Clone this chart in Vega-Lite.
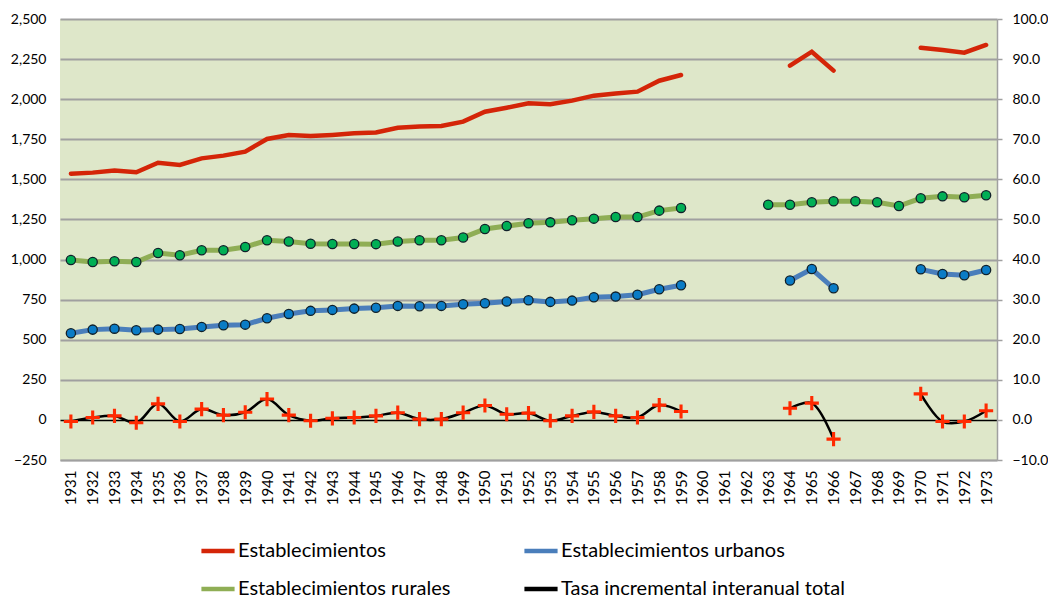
{
  "$schema": "https://vega.github.io/schema/vega-lite/v6.json",
  "autosize": {"type": "none"},
  "padding": {"left": 60, "top": 19, "right": 51, "bottom": 139},
  "width": 937,
  "height": 441,
  "data": {"values": [
    {"year": 1931, "est": 1535, "urb": 540, "rur": 997, "tasa": -0.4},
    {"year": 1932, "est": 1542, "urb": 563, "rur": 985, "tasa": 0.6},
    {"year": 1933, "est": 1555, "urb": 569, "rur": 989, "tasa": 1.0},
    {"year": 1934, "est": 1544, "urb": 559, "rur": 985, "tasa": -0.7},
    {"year": 1935, "est": 1604, "urb": 563, "rur": 1041, "tasa": 4.0},
    {"year": 1936, "est": 1590, "urb": 567, "rur": 1027, "tasa": -0.4},
    {"year": 1937, "est": 1631, "urb": 580, "rur": 1058, "tasa": 2.7},
    {"year": 1938, "est": 1648, "urb": 590, "rur": 1058, "tasa": 1.2},
    {"year": 1939, "est": 1673, "urb": 594, "rur": 1078, "tasa": 1.9},
    {"year": 1940, "est": 1752, "urb": 634, "rur": 1120, "tasa": 5.2},
    {"year": 1941, "est": 1777, "urb": 661, "rur": 1112, "tasa": 1.2},
    {"year": 1942, "est": 1770, "urb": 680, "rur": 1099, "tasa": -0.2},
    {"year": 1943, "est": 1777, "urb": 686, "rur": 1097, "tasa": 0.4},
    {"year": 1944, "est": 1787, "urb": 694, "rur": 1097, "tasa": 0.6},
    {"year": 1945, "est": 1792, "urb": 699, "rur": 1096, "tasa": 1.0},
    {"year": 1946, "est": 1822, "urb": 711, "rur": 1112, "tasa": 1.8},
    {"year": 1947, "est": 1829, "urb": 709, "rur": 1120, "tasa": 0.2},
    {"year": 1948, "est": 1833, "urb": 711, "rur": 1120, "tasa": 0.2},
    {"year": 1949, "est": 1860, "urb": 721, "rur": 1137, "tasa": 1.8},
    {"year": 1950, "est": 1922, "urb": 727, "rur": 1191, "tasa": 3.6},
    {"year": 1951, "est": 1947, "urb": 738, "rur": 1209, "tasa": 1.4},
    {"year": 1952, "est": 1974, "urb": 746, "rur": 1226, "tasa": 1.7},
    {"year": 1953, "est": 1968, "urb": 736, "rur": 1232, "tasa": -0.2},
    {"year": 1954, "est": 1991, "urb": 744, "rur": 1245, "tasa": 1.0},
    {"year": 1955, "est": 2022, "urb": 765, "rur": 1255, "tasa": 2.0},
    {"year": 1956, "est": 2036, "urb": 769, "rur": 1265, "tasa": 1.0},
    {"year": 1957, "est": 2047, "urb": 781, "rur": 1265, "tasa": 0.6},
    {"year": 1958, "est": 2115, "urb": 815, "rur": 1305, "tasa": 3.7},
    {"year": 1959, "est": 2151, "urb": 840, "rur": 1322, "tasa": 2.1},
    {"year": 1960, "est": null, "urb": null, "rur": null, "tasa": null},
    {"year": 1961, "est": null, "urb": null, "rur": null, "tasa": null},
    {"year": 1962, "est": null, "urb": null, "rur": null, "tasa": null},
    {"year": 1963, "est": null, "urb": null, "rur": 1342, "tasa": null},
    {"year": 1964, "est": 2209, "urb": 869, "rur": 1342, "tasa": 2.9},
    {"year": 1965, "est": 2296, "urb": 941, "rur": 1357, "tasa": 4.2},
    {"year": 1966, "est": 2178, "urb": 821, "rur": 1363, "tasa": -4.8},
    {"year": 1967, "est": null, "urb": null, "rur": 1363, "tasa": null},
    {"year": 1968, "est": null, "urb": null, "rur": 1357, "tasa": null},
    {"year": 1969, "est": null, "urb": null, "rur": 1334, "tasa": null},
    {"year": 1970, "est": 2321, "urb": 939, "rur": 1382, "tasa": 6.5},
    {"year": 1971, "est": 2306, "urb": 910, "rur": 1394, "tasa": -0.4},
    {"year": 1972, "est": 2290, "urb": 902, "rur": 1388, "tasa": -0.4},
    {"year": 1973, "est": 2338, "urb": 935, "rur": 1401, "tasa": 2.3}
  ]},
  "encoding": {
    "x": {
      "field": "year", "type": "ordinal",
      "scale": {"type": "point", "padding": 0.5, "domain": [1931,1932,1933,1934,1935,1936,1937,1938,1939,1940,1941,1942,1943,1944,1945,1946,1947,1948,1949,1950,1951,1952,1953,1954,1955,1956,1957,1958,1959,1960,1961,1962,1963,1964,1965,1966,1967,1968,1969,1970,1971,1972,1973]},
      "axis": {"title": null, "labelAngle": -90, "labelFontSize": 15, "labelPadding": 10, "ticks": false, "domain": true, "domainColor": "#A0A0A0", "domainWidth": 1.5, "grid": false, "labelColor": "#000000", "labelFont": "Lato"}
    }
  },
  "layer": [
    {
      "transform": [{"fold": ["est", "urb", "rur"], "as": ["serie", "valor"]}],
      "encoding": {
        "y": {"field": "valor", "type": "quantitative", "scale": {"domain": [-250, 2500], "nice": false, "zero": false},
          "axis": {"title": null, "orient": "left", "values": [-250,0,250,500,750,1000,1250,1500,1750,2000,2250,2500], "format": ",.0f", "grid": true, "gridColor": {"condition": {"test": "datum.value === 0", "value": "#000000"}, "value": "#A0A0A0"}, "gridWidth": {"condition": {"test": "datum.value === 0", "value": 1.5}, "value": 1.8}, "domain": false, "ticks": false, "labelPadding": 14, "labelFontSize": 14, "labelColor": "#000000", "labelFont": "Lato"}}
      },
      "layer": [
        {
          "transform": [{"filter": "datum.serie === 'est'"}],
          "mark": {"type": "line", "strokeWidth": 4.5, "strokeCap": "round"},
          "encoding": {
            "color": {"datum": "Establecimientos",
              "scale": {"domain": ["Establecimientos", "Establecimientos urbanos", "Establecimientos rurales", "Tasa incremental interanual total"], "range": ["#D42508", "#4A7EBB", "#8FAE55", "#000000"]},
              "legend": {"title": null, "orient": "none", "legendX": 139, "legendY": 513, "columns": 2, "direction": "horizontal", "symbolType": "stroke", "symbolSize": 1100, "symbolStrokeWidth": 4.5, "labelFontSize": 20, "labelFont": "Lato", "labelColor": "#000000", "labelOffset": 1, "columnPadding": 64, "rowPadding": 9, "padding": 0, "labelLimit": 400}}
          }
        },
        {
          "transform": [{"filter": "datum.serie === 'urb'"}],
          "mark": {"type": "line", "strokeWidth": 5},
          "encoding": {
            "color": {"datum": "Establecimientos urbanos"}
          }
        },
        {
          "transform": [{"filter": "datum.serie === 'urb'"}],
          "mark": {"type": "point", "shape": "circle", "filled": true, "fill": "#0A7CC6", "stroke": "#10202A", "strokeWidth": 1.3, "size": 85, "opacity": 1}
        },
        {
          "transform": [{"filter": "datum.serie === 'rur'"}],
          "mark": {"type": "line", "strokeWidth": 5},
          "encoding": {
            "color": {"datum": "Establecimientos rurales"}
          }
        },
        {
          "transform": [{"filter": "datum.serie === 'rur'"}],
          "mark": {"type": "point", "shape": "circle", "filled": true, "fill": "#00AF55", "stroke": "#10202A", "strokeWidth": 1.3, "size": 85, "opacity": 1}
        }
      ]
    },
    {
      "encoding": {
        "y": {"field": "tasa", "type": "quantitative", "scale": {"domain": [-10, 100]},
          "axis": {"title": null, "orient": "right", "values": [-10,0,10,20,30,40,50,60,70,80,90,100], "format": ".1f", "grid": false, "domain": true, "domainColor": "#A0A0A0", "domainWidth": 1.5, "ticks": true, "tickColor": "#A0A0A0", "tickWidth": 1.5, "tickSize": 5, "labelPadding": 10, "labelFontSize": 14, "labelColor": "#000000", "labelFont": "Lato"}}
      },
      "layer": [
        {
          "mark": {"type": "line", "strokeWidth": 2.5, "interpolate": "catmull-rom"},
          "encoding": {
            "color": {"datum": "Tasa incremental interanual total"}
          }
        },
        {
          "mark": {"type": "point", "shape": "M-1,-0.22H-0.22V-1H0.22V-0.22H1V0.22H0.22V1H-0.22V0.22H-1Z", "filled": true, "fill": "#FF2A00", "strokeWidth": 0, "size": 200, "opacity": 1}
        }
      ]
    }
  ],
  "resolve": {"scale": {"y": "independent"}},
  "config": {
    "view": {"fill": "#DEE7C9", "stroke": null},
    "font": "Lato"
  }
}
